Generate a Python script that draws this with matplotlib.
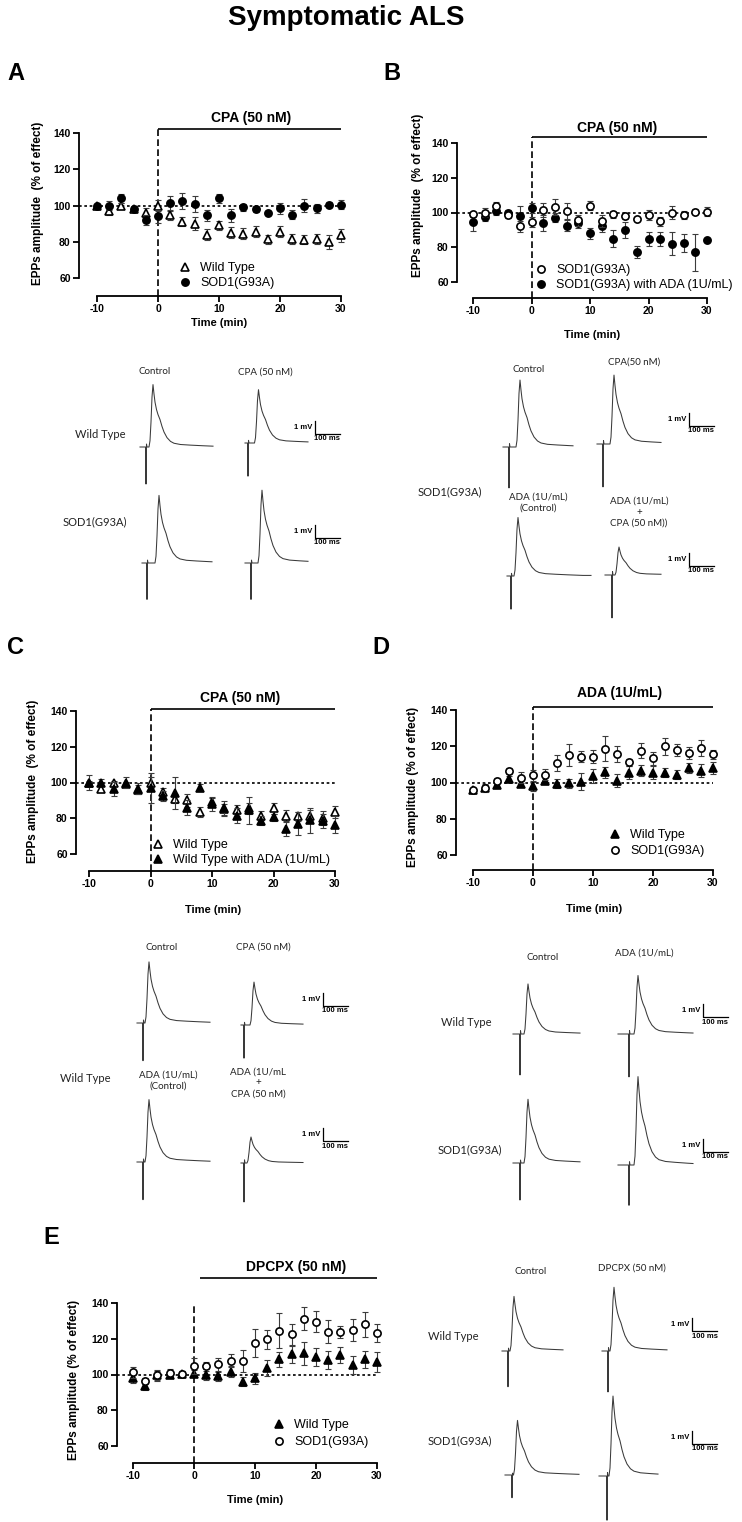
import numpy as np
import matplotlib.pyplot as plt
from matplotlib.lines import Line2D

plt.rcParams['font.family'] = ['Liberation Sans', 'DejaVu Sans']
plt.rcParams['axes.unicode_minus'] = False

W, H = 742, 1522

# ---------------- time course data (% of effect) ----------------
time_min = list(range(-10, 31, 2))

a_wt = [99.5, 96.7, 100, 98, 96, 100, 94.5, 91, 90, 84, 89, 85, 84.5, 85.5, 81.5, 85.5, 81.5, 81, 81.5, 80, 83.5]
a_wt_err = [1, 2, 1.5, 1.5, 2.5, 3, 2.5, 2.5, 3.5, 3, 2.5, 3, 3, 3, 2.5, 3, 3, 2.5, 3, 4, 3.5]
a_sod = [99.5, 100, 104, 98, 92, 94, 101.5, 102.5, 101, 94.5, 104, 94.5, 99, 98, 96, 98.5, 95, 100, 98.5, 100.5, 100.5]
a_sod_err = [1.5, 2.5, 2.5, 1.5, 3, 3.5, 4, 4.5, 4.5, 3, 2.5, 3.5, 2, 1.5, 1, 3, 2.5, 3.5, 2.5, 1.5, 2.5]

b_sod = [99, 100, 104, 98.5, 92, 94.5, 101.5, 103, 101, 95.5, 104, 95, 99, 98, 96, 98.5, 95, 100, 98.5, 100.5, 100.5]
b_sod_err = [1.5, 2.5, 2, 1.5, 3, 3, 4, 4.5, 4.5, 3, 2.5, 3.5, 2, 1.5, 1, 3, 2.5, 3.5, 2.5, 1.5, 2.5]
b_ada = [94.5, 97.5, 101, 99.5, 98, 102.5, 94, 97, 92.5, 94, 88, 92, 85, 90, 77.5, 85, 85, 82, 82.5, 77, 84]
b_ada_err = [5, 2.5, 2.5, 2, 6, 3, 4.5, 2.5, 3, 3, 3, 3, 5, 4.5, 3.5, 4, 4, 6.5, 5, 10.5, 1]

c_wt = [100, 96.5, 99.5, 99, 96, 100, 94.5, 91, 90, 83.5, 89, 85, 84.5, 85.5, 81.5, 85.5, 81.5, 81, 81.5, 80, 83.5]
c_wt_err = [1, 2, 1.5, 1.5, 2.5, 3, 2.5, 2.5, 3.5, 3, 2.5, 3, 3, 3, 2.5, 3, 3, 2.5, 3, 4, 3.5]
c_ada = [100, 100, 96.5, 100, 96.5, 97, 92.5, 94, 86, 97, 88, 85.5, 81.5, 84.5, 78.5, 80.5, 74, 77, 79, 78.5, 76.5]
c_ada_err = [4, 2, 4, 3, 3, 8.5, 3, 9, 4, 2, 4, 4, 4, 7.5, 2.5, 2, 4, 6.5, 7, 4, 5]

d_wt = [96, 97, 98.7, 102, 99.3, 97.8, 101, 99.3, 99.6, 100.5, 103.7, 105.7, 101, 105.5, 106.6, 105.5, 105.5, 104.2, 108, 106.6, 108]
d_wt_err = [1, 1.5, 1.5, 1.5, 1.5, 2.5, 2, 2.5, 2.5, 4.5, 4, 3, 3.5, 3.5, 3, 3.5, 2.5, 2.5, 3, 3.5, 3.5]
d_sod = [96, 97, 101, 106.4, 102.7, 104, 104.2, 110.7, 115.3, 114.3, 114.3, 118.6, 115.6, 111.2, 117.6, 113.4, 119.9, 118, 116.2, 119, 115.6]
d_sod_err = [1, 2, 1.5, 1.5, 3, 3, 3, 4.5, 6, 3, 3.5, 7, 4.5, 2, 4, 3.5, 4.5, 3.5, 3.5, 4.5, 2.5]

e_wt = [97.8, 93.5, 99.6, 99.6, 100.5, 100.5, 99.6, 99, 101.5, 95.9, 97.8, 103.4, 108.4, 111.2, 111.8, 109.9, 108, 111, 105.2, 108.4, 107]
e_wt_err = [2.5, 2, 2.5, 1.5, 1.5, 2, 2.5, 2.5, 3, 2.5, 3, 4.5, 4, 5, 6.5, 5, 5, 4.5, 5, 4.5, 5.5]
e_sod = [101.3, 96.3, 99.6, 101, 100.4, 104.9, 105, 105.6, 107.8, 107.5, 117.7, 119.6, 124.6, 122.4, 131.3, 129.5, 123.9, 123.7, 124.8, 128, 123]
e_sod_err = [3, 1.5, 3, 2, 1.5, 4.5, 2, 3.5, 3.5, 6, 8, 5.5, 10, 6, 6.5, 6, 6.5, 3.5, 6, 7, 5]

y_ticks = [60, 80, 100, 120, 140]
x_ticks = [-10, 0, 10, 20, 30]

# ---------------- EPP recordings ----------------
# normalised EPP waveform (ms after onset) and stimulus artefact (ms from stimulus)
epp_t = [0, 4, 8, 12, 16, 20, 24, 30, 36, 44, 52, 60, 72, 86, 100, 126, 166, 216, 276]
epp_v = [0, 0.1, 0.4, 0.8, 1.0, 0.85, 0.72, 0.6, 0.52, 0.44, 0.33, 0.24, 0.15, 0.09, 0.06, 0.04, 0.03, 0.02, 0.01]
art_t = [-2, 0, 2, 4]
art_v = [0, -1, 0.08, 0]

# per trace: peak (mV), artefact depth (mV), EPP onset (ms), window before / after stimulus (ms)
a_peak = [4.8, 4.1, 5.2, 5.6]
a_art = [2.85, 2.55, 2.8, 2.8]
a_onset = [12, 26, 32, 28]
a_pre = [24, 12, 20, 24]
a_post = [268, 240, 260, 228]

b_peak = [5.15, 5.3, 4.5, 2.15]
b_art = [3.15, 3.3, 2.55, 3.3]
b_onset = [28, 28, 12, 12]
b_pre = [24, 24, 16, 28]
b_post = [256, 232, 320, 196]

c_peak = [4.7, 3.3, 4.8, 2.0]
c_art = [2.9, 2.55, 2.9, 3.0]
c_onset = [8, 24, 8, 12]
c_pre = [24, 12, 24, 12]
c_post = [268, 236, 268, 236]

d_peak = [3.85, 4.5, 4.9, 6.8]
d_art = [3.15, 3.3, 2.85, 3.1]
d_onset = [16, 20, 16, 20]
d_pre = [28, 44, 28, 44]
d_post = [240, 256, 240, 256]

e_peak = [4.2, 4.9, 4.2, 6.15]
e_art = [2.75, 3.15, 1.75, 3.4]
e_onset = [8, 8, 6, 8]
e_pre = [24, 24, 28, 32]
e_post = [220, 236, 268, 204]

PX_MS = 0.25   # 100 ms -> 25 px
PX_MV = 13.0   # 1 mV  -> 13 px

fig = plt.figure(figsize=(W / 100, H / 100), dpi=100)

ov = fig.add_axes([0, 0, 1, 1])
ov.set_xlim(0, W)
ov.set_ylim(H, 0)
ov.axis('off')

TRACE_FONT = ['Lato', 'DejaVu Sans']


def make_panel(spine_x, x_m10, x_30, y140, y60, y_ax):
    ppm = (x_30 - x_m10) / 40.0
    ppu = (y60 - y140) / 80.0
    xl = -10 - (x_m10 - spine_x) / ppm
    xr = 31.5
    yb = 60 - (y_ax - y60) / ppu
    yt = 150
    w = (xr - xl) * ppm
    h = (yt - yb) * ppu
    ax = fig.add_axes([spine_x / W, 1 - y_ax / H, w / W, h / H])
    ax.set_xlim(xl, xr)
    ax.set_ylim(yb, yt)
    ax.patch.set_alpha(0)
    for s in ['top', 'right']:
        ax.spines[s].set_visible(False)
    ax.spines['left'].set_bounds(60, 140)
    ax.spines['bottom'].set_bounds(-10, 30)
    for s in ['left', 'bottom']:
        ax.spines[s].set_linewidth(1.3)
    ax.set_yticks(y_ticks)
    ax.set_xticks(x_ticks)
    ax.tick_params(length=4, width=1.3, labelsize=7.5, pad=2)
    for lbl in ax.get_xticklabels() + ax.get_yticklabels():
        lbl.set_fontweight('bold')
    ax.hlines(100, xl, 30, colors='k', linestyles=(0, (1.6, 1.6)), lw=1.2, zorder=1)
    return ax, (spine_x, y_ax, w, h)


def labels(ax, geo, ylabel, yl_xy, xl_xy):
    left, bottom, w, h = geo
    ax.set_ylabel(ylabel, fontsize=8.5, fontweight='bold')
    ax.yaxis.set_label_coords((yl_xy[0] - left) / w, (bottom - yl_xy[1]) / h)
    ax.yaxis.label.set_va('center')
    ax.set_xlabel('Time (min)', fontsize=8, fontweight='bold')
    ax.xaxis.set_label_coords((xl_xy[0] - left) / w, (bottom - xl_xy[1]) / h)
    ax.xaxis.label.set_va('center')


def drug_bar(ax, text, bar_y, text_x, text_y, x0=0, vtop=None):
    ax.hlines(bar_y, x0, 30, colors='k', lw=1.2, clip_on=False)
    ax.text(text_x, text_y, text, ha='center', va='center', fontsize=10, fontweight='bold', clip_on=False)
    top = bar_y if vtop is None else vtop
    ax.vlines(0, ax.get_ylim()[0], top, colors='k', linestyles=(0, (4, 2)), lw=1.2, clip_on=False)


STYLE = {
    'open_tri': dict(marker='^', mfc='white', ms=6.2),
    'fill_tri': dict(marker='^', mfc='k', ms=6.2),
    'open_circ': dict(marker='o', mfc='white', ms=5.2),
    'fill_circ': dict(marker='o', mfc='k', ms=5.2),
}


def series(ax, vals, err, kind, z):
    st = STYLE[kind]
    ax.errorbar(time_min, vals, yerr=err, fmt='none', ecolor='#3c3c3c', elinewidth=0.8,
                capsize=2.5, capthick=0.8, zorder=z)
    ax.plot(time_min, vals, ls='none', marker=st['marker'], ms=st['ms'], mfc=st['mfc'], mec='k', mew=1.2,
            zorder=z + 0.5)


def legend(ax, kinds, names, mx, my, spacing):
    hs = [Line2D([], [], ls='none', marker=STYLE[k]['marker'], ms=STYLE[k]['ms'], mfc=STYLE[k]['mfc'],
                 mec='k', mew=1.2) for k in kinds]
    ax.legend(hs, names, loc='upper left', bbox_to_anchor=((mx - 6.5) / W, 1 - (my - 8) / H),
              bbox_transform=fig.transFigure, frameon=False, fontsize=9, handlelength=1.0,
              handletextpad=0.75, labelspacing=spacing, borderpad=0, borderaxespad=0)


def draw_trace(x0, y0, peak, art, onset, pre, post):
    t = np.concatenate([[-pre], art_t, onset + np.array(epp_t, float)])
    v = np.concatenate([[0], art * np.array(art_v), peak * np.array(epp_v)])
    end_v = np.interp(post, t, v)
    keep = t < post
    t = np.append(t[keep], post)
    v = np.append(v[keep], end_v)
    ov.plot(x0 + t * PX_MS, y0 - v * PX_MV, color='#3a3a3a', lw=0.75)


def scale_bar(x, y):
    ov.plot([x, x, x + 100 * PX_MS], [y - PX_MV, y, y], color='k', lw=0.9)
    ov.text(x - 3, y - 6.5, '1 mV', ha='right', va='center', fontsize=5.5, fontweight='bold')
    ov.text(x + 12.5, y + 1.5, '100 ms', ha='center', va='top', fontsize=5.5, fontweight='bold')


def traces(pos, peak, art, onset, pre, post):
    for (x0, y0), p, a, o, b, e in zip(pos, peak, art, onset, pre, post):
        draw_trace(x0, y0, p, a, o, b, e)


def tlabel(x, y, s, size=7, ha='center'):
    ov.text(x, y, s, ha=ha, va='center', fontsize=size, family=TRACE_FONT, linespacing=1.3, color='#222222')


# ---------------- title and panel letters ----------------
ov.text(346, 18, 'Symptomatic ALS', ha='center', va='center', fontsize=20, fontweight='bold')
for letter, (lx, ly) in zip('ABCDE', [(16, 74), (392, 74), (16, 648), (381, 648), (51, 1237)]):
    ov.text(lx, ly, letter, ha='center', va='center', fontsize=17, fontweight='bold')

# ---------------- panel A ----------------
ax, geo = make_panel(79, 97, 341, 133, 278, 296)
series(ax, a_wt, a_wt_err, 'open_tri', 3)
series(ax, a_sod, a_sod_err, 'fill_circ', 4)
drug_bar(ax, 'CPA (50 nM)', 142.2, 15.2, 148.3)
labels(ax, geo, 'EPPs amplitude  (% of effect)', (38, 203), (219, 323))
legend(ax, ['open_tri', 'fill_circ'], ['Wild Type', 'SOD1(G93A)'], 185, 270, 0.25)

traces([(146, 447), (248, 443), (147, 563), (251, 563)], a_peak, a_art, a_onset, a_pre, a_post)
scale_bar(315, 434)
scale_bar(315, 538)
tlabel(155, 372, 'Control')
tlabel(265, 372, 'CPA (50 nM)')
tlabel(75, 435, 'Wild Type', 8, 'left')
tlabel(63, 522, 'SOD1(G93A)', 8, 'left')

# ---------------- panel B ----------------
ax, geo = make_panel(457, 473, 707, 143, 282, 298)
series(ax, b_sod, b_sod_err, 'open_circ', 4)
series(ax, b_ada, b_ada_err, 'fill_circ', 3)
drug_bar(ax, 'CPA (50 nM)', 143.4, 14.7, 148.6)
labels(ax, geo, 'EPPs amplitude  (% of effect)', (418, 195), (592, 335))
legend(ax, ['open_circ', 'fill_circ'], ['SOD1(G93A)', 'SOD1(G93A) with ADA (1U/mL)'], 541, 272, 0.25)

traces([(509, 447), (603, 444), (511, 576), (612, 575)], b_peak, b_art, b_onset, b_pre, b_post)
scale_bar(689, 426)
scale_bar(689, 566)
tlabel(529, 370, 'Control')
tlabel(634, 362, 'CPA(50 nM)')
tlabel(418, 492, 'SOD1(G93A)', 8, 'left')
tlabel(538, 503, 'ADA (1U/mL)\n(Control)')
tlabel(639, 512, 'ADA (1U/mL)\n+\nCPA (50 nM))')

# ---------------- panel C ----------------
ax, geo = make_panel(76, 89, 335, 711, 854, 871)
series(ax, c_wt, c_wt_err, 'open_tri', 3)
series(ax, c_ada, c_ada_err, 'fill_tri', 4)
drug_bar(ax, 'CPA (50 nM)', 141.1, 14.6, 147)
labels(ax, geo, 'EPPs amplitude  (% of effect)', (33, 781), (213, 910))
legend(ax, ['open_tri', 'fill_tri'], ['Wild Type', 'Wild Type with ADA (1U/mL)'], 158, 847, 0.25)

traces([(143, 1023), (244, 1025), (143, 1162), (244, 1163)], c_peak, c_art, c_onset, c_pre, c_post)
scale_bar(323, 1006)
scale_bar(323, 1141)
tlabel(162, 947, 'Control')
tlabel(263, 947, 'CPA (50 nM)')
tlabel(60, 1078, 'Wild Type', 8, 'left')
tlabel(168, 1081, 'ADA (1U/mL)\n(Control)')
tlabel(258, 1083, 'ADA (1U/mL\n+\nCPA (50 nM)')

# ---------------- panel D ----------------
ax, geo = make_panel(456, 473, 713, 710, 855, 870)
series(ax, d_wt, d_wt_err, 'fill_tri', 3)
series(ax, d_sod, d_sod_err, 'open_circ', 4)
drug_bar(ax, 'ADA (1U/mL)', 141.7, 14.5, 149.4)
labels(ax, geo, 'EPPs amplitude (% of effect)', (413, 787), (594, 909))
legend(ax, ['fill_tri', 'open_circ'], ['Wild Type', 'SOD1(G93A)'], 615, 837, 0.35)

traces([(520, 1034), (629, 1034), (520, 1163), (629, 1165)], d_peak, d_art, d_onset, d_pre, d_post)
scale_bar(703, 1017)
scale_bar(703, 1152)
tlabel(543, 957, 'Control')
tlabel(644, 953, 'ADA (1U/mL)')
tlabel(441, 1022, 'Wild Type', 8, 'left')
tlabel(438, 1150, 'SOD1(G93A)', 8, 'left')

# ---------------- panel E ----------------
ax, geo = make_panel(117, 133, 377, 1303, 1446, 1463)
series(ax, e_wt, e_wt_err, 'fill_tri', 3)
series(ax, e_sod, e_sod_err, 'open_circ', 4)
drug_bar(ax, 'DPCPX (50 nM)', 154, 16.7, 160, x0=1, vtop=140)
labels(ax, geo, 'EPPs amplitude (% of effect)', (74, 1380), (255, 1500))
legend(ax, ['fill_tri', 'open_circ'], ['Wild Type', 'SOD1(G93A)'], 279, 1427, 0.4)

traces([(508, 1351), (608, 1351), (512, 1475), (607, 1476)], e_peak, e_art, e_onset, e_pre, e_post)
scale_bar(692, 1331)
scale_bar(692, 1444)
tlabel(531, 1271, 'Control')
tlabel(632, 1268, 'DPCPX (50 nM)')
tlabel(428, 1337, 'Wild Type', 8, 'left')
tlabel(428, 1441, 'SOD1(G93A)', 8, 'left')

fig.savefig('out.png', dpi=100)
